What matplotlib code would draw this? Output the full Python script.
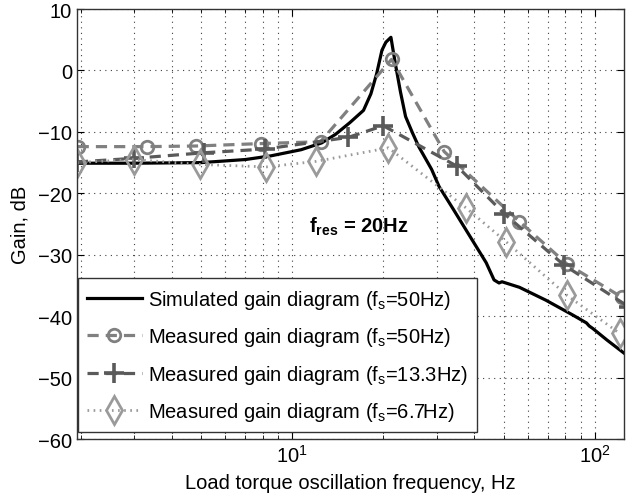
import numpy as np
import matplotlib
matplotlib.use('Agg')
import matplotlib.pyplot as plt

plt.rcParams['font.family'] = ['Liberation Sans', 'DejaVu Sans']
plt.rcParams['mathtext.fontset'] = 'custom'
plt.rcParams['mathtext.rm'] = 'Liberation Sans'
plt.rcParams['mathtext.it'] = 'Liberation Sans:italic'
plt.rcParams['mathtext.bf'] = 'Liberation Sans:bold'

# simulated gain (fs=50Hz)
sim_f = [1.94, 3.0, 5.0, 7.0, 8.5, 10.7, 12.5, 13.9, 15.5, 17.2, 18.2, 19.0, 19.8, 20.4, 21.2,
         21.6, 22.0, 22.8, 23.7, 25.0, 26.2, 28.9, 30.6, 34.0, 37.6, 43.8, 46.5, 48.3, 49.4,
         56.4, 69.0, 84.6, 94.0, 96.0, 98.6, 110.0, 125.0]
sim_db = [-15.1, -15.1, -15.0, -14.5, -13.9, -12.9, -11.8, -10.4, -8.5, -6.5, -3.8, -0.6, 3.3, 4.6, 5.4,
          3.0, 0.7, -3.5, -7.5, -10.2, -12.4, -16.1, -18.9, -22.5, -26.0, -31.3, -34.1, -34.6, -34.4,
          -35.3, -37.4, -39.8, -41.1, -41.6, -42.0, -43.9, -46.0]

# measured, fs=50Hz
m50_f = [1.95, 3.3, 4.8, 7.9, 12.4, 21.3, 31.8, 56.4, 81.0, 123.0]
m50_db = [-12.4, -12.4, -12.3, -11.9, -11.6, 1.8, -13.2, -24.6, -31.5, -36.9]

# measured, fs=13.3Hz
m13_f = [1.94, 3.0, 5.1, 8.1, 15.3, 20.0, 35.1, 50.2, 79.3, 130.0]
m13_db = [-14.9, -14.3, -13.4, -12.8, -10.9, -9.0, -15.6, -23.3, -31.7, -38.5]

# measured, fs=6.7Hz
m6_f = [1.94, 3.0, 4.95, 8.2, 12.0, 20.8, 37.6, 51.0, 81.0, 121.0]
m6_db = [-15.0, -14.5, -15.3, -15.7, -14.8, -12.6, -22.4, -27.9, -36.6, -42.8]

fs = 14.5

fig = plt.figure(figsize=(6.27, 5.02), dpi=100)
ax = fig.add_axes([0.1228, 0.1235, 0.8722, 0.8565])

ax.plot(sim_f, sim_db, color='black', lw=2.3, label=r'Simulated gain diagram (f$_\mathregular{s}$=50Hz)')
ax.plot(m50_f, m50_db, color='#808080', lw=2.3, ls=(0, (3.5, 2.2)), marker='o', ms=9,
        mfc='none', mew=2, label=r'Measured gain diagram (f$_\mathregular{s}$=50Hz)')
ax.plot(m13_f, m13_db, color='#5a5a5a', lw=2.3, ls=(0, (3.5, 2.2)), marker='+', ms=15,
        mew=2.6, label=r'Measured gain diagram (f$_\mathregular{s}$=13.3Hz)')
ax.plot(m6_f, m6_db, color='#9a9a9a', lw=2.0, ls=(0, (0.6, 1.6)), marker='d', ms=14,
        mfc='none', mew=2, label=r'Measured gain diagram (f$_\mathregular{s}$=6.7Hz)')

ax.set_xscale('log')
ax.set_xlim(1.94, 125)
ax.set_ylim(-60, 10)
ax.set_yticks(np.arange(-60, 11, 10))

ax.grid(True, which='both', axis='x', color='0.25', ls=(0, (1, 4)), lw=0.8)
ax.grid(True, which='major', axis='y', color='0.25', ls=(0, (1, 4)), lw=0.8)
ax.tick_params(which='both', direction='in', top=True, right=True, labelsize=fs)
ax.tick_params(which='major', length=5)
ax.tick_params(which='minor', length=3)
for s in ax.spines.values():
    s.set_linewidth(1.0)
    s.set_color('0.2')

ax.text(16.6, -25.3, r'$\mathbf{f_{res}}$ = 20Hz', fontsize=fs, fontweight='bold',
        ha='center', va='center')

ax.set_xlabel('Load torque oscillation frequency, Hz', fontsize=fs, labelpad=5)
ax.set_ylabel('Gain, dB', fontsize=fs, labelpad=6)

leg = ax.legend(loc='lower left', bbox_to_anchor=(0.002, 0.016), fontsize=fs,
                handlelength=2.7, labelspacing=0.72, handletextpad=0.3,
                borderpad=0.45, fancybox=False, framealpha=1, borderaxespad=0)
leg.get_frame().set_edgecolor('0.2')
leg.get_frame().set_linewidth(1.0)

fig.savefig('out.png', dpi=100)
